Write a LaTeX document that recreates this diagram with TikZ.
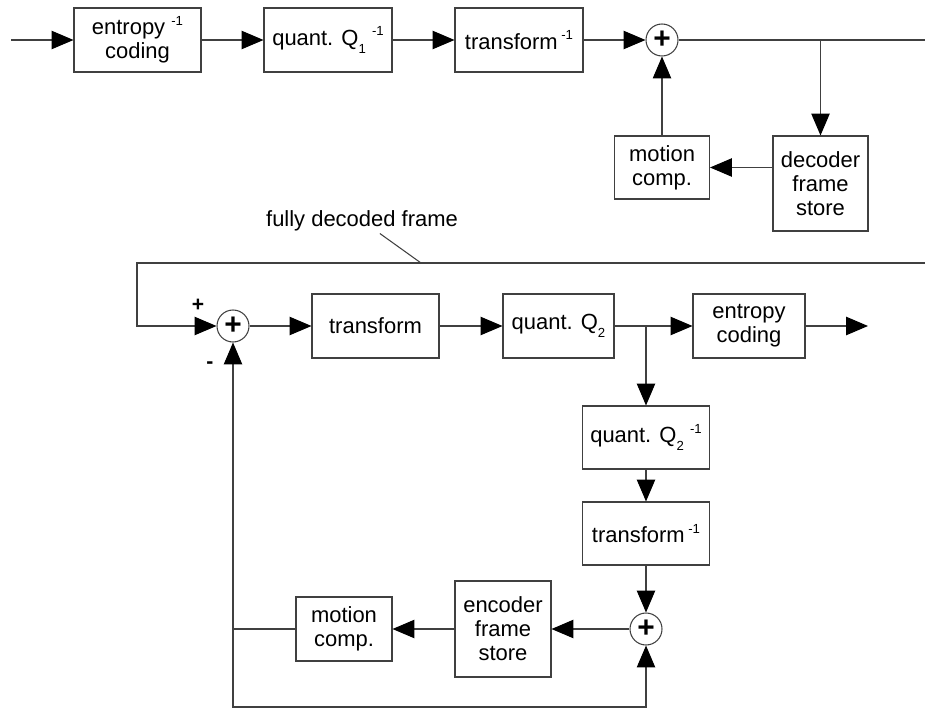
\documentclass[tikz,border=0pt]{standalone}
\usepackage{fontspec}
\setmainfont{Liberation Sans}
\usetikzlibrary{arrows.meta}
\newcommand{\supm}{\raisebox{0.8ex}{\fontsize{7.5}{7.5}\selectfont -1}}
\newcommand{\subn}[1]{\raisebox{-0.7ex}{\fontsize{7.5}{7.5}\selectfont #1}}

\begin{document}
\begin{tikzpicture}[x=0.02cm, y=-0.02cm, ->, >={Triangle[length=12.5pt,width=10.5pt,color=black]},
    line width=0.6pt, draw=black!75,
    blk/.style={rectangle, draw=black!75, align=center, inner sep=0pt,
        font=\fontsize{12.5}{13.6}\selectfont},
    sum/.style={circle, draw=black!75, minimum size=0.64cm, inner sep=0pt,
        font=\bfseries\fontsize{17}{17}\selectfont}]

    \useasboundingbox (0,0) rectangle (925,709);

    % decoder
    \coordinate (in1) at (11,40);
    \coordinate (out1) at (925,40);

    \node[blk,
          minimum width = 2.54cm,
          minimum height = 1.28cm
          ] (ent1) at (137.5,40) {entropy \supm\\coding};

    \node[blk,
          minimum width = 2.56cm,
          minimum height = 1.28cm
          ] (qnt1) at (328,40) {quant. Q\subn{1} \supm};

    \node[blk,
          minimum width = 2.56cm,
          minimum height = 1.28cm
          ] (trf1) at (519,40) {transform\,\supm};

    \node[sum] (sum1) at (662,40) {+};

    \node[blk,
          minimum width = 1.9cm,
          minimum height = 1.9cm
          ] (dfs) at (820.5,183.5) {decoder\\frame\\store};

    \node[blk,
          minimum width = 1.9cm,
          minimum height = 1.26cm
          ] (mc1) at (662,167.5) {motion\\comp.};

    \path
    (in1) edge [] (ent1)
    (ent1) edge [] (qnt1)
    (qnt1) edge [] (trf1)
    (trf1) edge [] (sum1)
    (mc1) edge [] (sum1);

    \draw[-] (sum1) -- (out1);
    \draw (sum1 -| dfs) -- (dfs);
    \draw (dfs.west |- mc1) -- (mc1);

    % encoder
    \node[sum] (sum2) at (233,326) {+};
    \node[font=\bfseries\fontsize{12}{12}\selectfont] (pl) at (198,305) {+};
    \node[font=\bfseries\fontsize{12}{12}\selectfont] (mi) at (210,365) {-};

    \node[blk,
          minimum width = 2.54cm,
          minimum height = 1.28cm
          ] (trf2) at (375.5,326) {transform};

    \node[blk,
          minimum width = 2.22cm,
          minimum height = 1.28cm
          ] (qnt2) at (558.5,326) {quant. Q\subn{2}};

    \node[blk,
          minimum width = 2.24cm,
          minimum height = 1.28cm
          ] (ent2) at (749,326) {entropy\\coding};
    \coordinate (out2) at (868,326);

    \node[blk,
          minimum width = 2.54cm,
          minimum height = 1.26cm
          ] (qnt2i) at (646,437.5) {quant. Q\subn{2} \supm};

    \node[blk,
          minimum width = 2.54cm,
          minimum height = 1.26cm
          ] (trf2i) at (646,533.5) {transform\,\supm};

    \node[sum] (sum3) at (646,629) {+};

    \node[blk,
          minimum width = 1.92cm,
          minimum height = 1.92cm
          ] (efs) at (503,629) {encoder\\frame\\store};

    \node[blk,
          minimum width = 1.92cm,
          minimum height = 1.28cm
          ] (mc2) at (344,629) {motion\\comp.};
    \coordinate (bot) at (233,707);

    % link between the two
    \node[inner sep=1pt, font=\fontsize{12.5}{13.6}\selectfont] (lbl) at (362,221) {fully decoded frame};
    \coordinate (tick) at (421,263);
    \coordinate (fbr) at (925,263);
    \coordinate (fbl) at (137,263);
    \draw[-] (lbl.-35) -- (tick);
    \draw (fbr) -- (fbl) |- (sum2);

    \path
    (sum2) edge [] (trf2)
    (trf2) edge [] (qnt2)
    (qnt2) edge [] (ent2)
    (ent2) edge [] (out2)
    (qnt2i) edge [] (trf2i)
    (trf2i) edge [] (sum3)
    (sum3) edge [] (efs)
    (efs) edge [] (mc2);

    \draw (qnt2.east -| qnt2i) -- (qnt2i);
    \draw (mc2.west) -| (sum2);
    \draw (mc2.west -| sum2) -- (bot) -| (sum3);

\end{tikzpicture}
\end{document}
